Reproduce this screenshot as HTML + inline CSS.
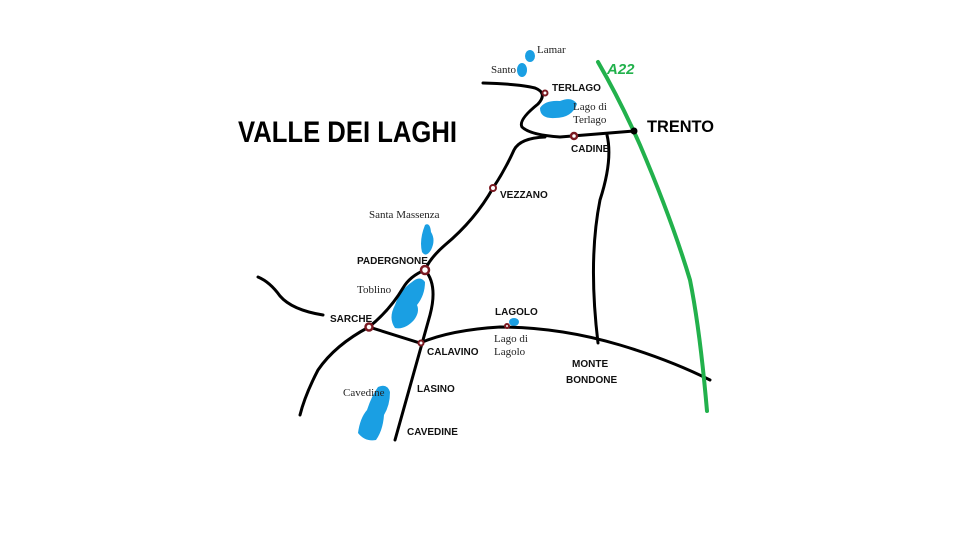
<!DOCTYPE html>
<html><head><meta charset="utf-8"><style>
html,body{margin:0;padding:0;background:#fff;width:960px;height:540px;overflow:hidden}
svg{display:block}
.l{font-family:"Liberation Sans",sans-serif;font-weight:bold;font-size:10px;fill:#111}
.s{font-family:"Liberation Serif",serif;font-size:11px;fill:#222}
</style></head><body>
<svg width="960" height="540" viewBox="0 0 960 540" xmlns="http://www.w3.org/2000/svg">
<g fill="#1a9fe3">
<ellipse cx="530" cy="56" rx="5" ry="6"/>
<ellipse cx="522" cy="70" rx="5" ry="7"/>
<path d="M540 108 Q545 100 560 101 Q572 96 577 104 Q572 118 555 118 Q540 119 540 108Z"/>
<path d="M425 225 Q430 222 431 232 Q436 240 431 250 Q426 258 422 252 Q419 240 425 225Z"/>
<path d="M412 282 Q420 275 425 282 Q425 295 417 305 Q420 312 414 320 Q405 330 395 328 Q388 318 395 305 Q400 290 412 282Z"/>
<ellipse cx="514" cy="322" rx="5" ry="4"/>
<path d="M378 387 Q387 383 390 392 Q390 405 384 415 Q383 430 376 440 Q365 442 358 433 Q360 418 367 410 Q372 395 378 387Z"/>
</g>
<g fill="none" stroke="#000" stroke-width="3" stroke-linecap="round">
<path d="M483 83 Q520 84 535 88 Q548 93 538 104 Q518 120 522 127 Q530 135 560 137 L634 131"/>
<path d="M545 137 Q520 138 514 150 Q505 170 493 188 Q475 220 445 245 Q430 258 425 270 Q410 276 403 288 Q390 310 369 327 Q335 345 318 370 Q305 395 300 415"/>
<path d="M607 135 Q613 160 600 200 Q588 260 598 343"/>
<path d="M425 270 Q438 285 430 315 L395 440"/>
<path d="M369 327 L420 343 Q450 330 500 327 Q560 327 620 345 Q670 360 710 380"/>
<path d="M258 277 Q270 282 280 296 Q292 310 323 315"/>
</g>
<path d="M598 62 Q620 100 640 145 Q672 220 690 280 Q700 330 707 411" fill="none" stroke="#22b14c" stroke-width="4" stroke-linecap="round"/>
<g fill="#fff" stroke="#7b1a22">
<circle cx="545" cy="93" r="2.5" stroke-width="2"/>
<circle cx="574" cy="136" r="3" stroke-width="2.5"/>
<circle cx="493" cy="188" r="3" stroke-width="2"/>
<circle cx="425" cy="270" r="4" stroke-width="2.5"/>
<circle cx="369" cy="327" r="3.5" stroke-width="2.5"/>
<circle cx="421" cy="343" r="2.5" stroke-width="2"/>
<circle cx="507" cy="326" r="2" stroke-width="2"/>
</g>
<circle cx="634" cy="131" r="3.5" fill="#000"/>
<text x="238" y="142" font-family="Liberation Sans,sans-serif" font-weight="bold" font-size="30" textLength="219" lengthAdjust="spacingAndGlyphs" fill="#000">VALLE DEI LAGHI</text>
<text x="647" y="132" font-family="Liberation Sans,sans-serif" font-weight="bold" font-size="17" textLength="67" lengthAdjust="spacingAndGlyphs" fill="#000">TRENTO</text>
<text x="607" y="74" font-family="Liberation Sans,sans-serif" font-weight="bold" font-style="italic" font-size="15" fill="#22b14c">A22</text>
<text class="l" x="552" y="91">TERLAGO</text>
<text class="l" x="571" y="152">CADINE</text>
<text class="l" x="500" y="198">VEZZANO</text>
<text class="l" x="357" y="264">PADERGNONE</text>
<text class="l" x="330" y="322">SARCHE</text>
<text class="l" x="427" y="355">CALAVINO</text>
<text class="l" x="417" y="392">LASINO</text>
<text class="l" x="407" y="435">CAVEDINE</text>
<text class="l" x="495" y="315">LAGOLO</text>
<text class="l" x="572" y="367">MONTE</text>
<text class="l" x="566" y="383">BONDONE</text>
<text class="s" x="537" y="53">Lamar</text>
<text class="s" x="491" y="73">Santo</text>
<text class="s" x="573" y="110">Lago di</text>
<text class="s" x="573" y="123">Terlago</text>
<text class="s" x="369" y="218">Santa Massenza</text>
<text class="s" x="357" y="293">Toblino</text>
<text class="s" x="494" y="342">Lago di</text>
<text class="s" x="494" y="355">Lagolo</text>
<text class="s" x="343" y="396">Cavedine</text>
</svg>
</body></html>
